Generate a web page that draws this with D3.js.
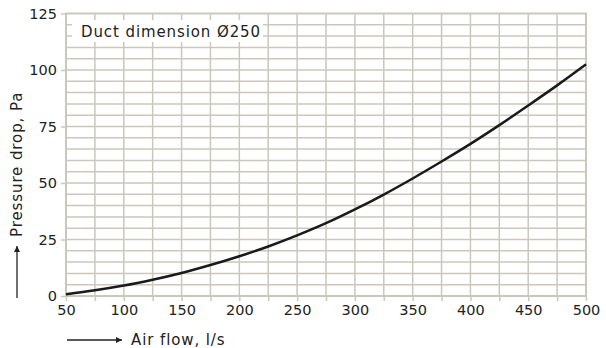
<!DOCTYPE html>
<html>
<head>
<meta charset="utf-8">
<script src="https://cdn.jsdelivr.net/npm/d3@7"></script>
<style>
  body { margin: 0; background: #fff; }
  svg { display: block; font-family: "DejaVu Sans", sans-serif; }
</style>
</head>
<body>
<svg width="606" height="348"></svg>
<script>
// air flow (l/s) and pressure drop (Pa)
var airFlow = [50, 75, 100, 125, 150, 175, 200, 225, 250, 275, 300, 325, 350, 375, 400, 425, 450, 475, 500];
var pressureDrop = [0.8, 2.5, 4.6, 7.2, 10.2, 13.7, 17.6, 21.9, 26.8, 32.2, 38.3, 44.9, 52, 59.5, 67.3, 75.6, 84.3, 93.2, 102.5];
var xTicks = [50, 100, 150, 200, 250, 300, 350, 400, 450, 500];
var yTicks = [0, 25, 50, 75, 100, 125];
var legendText = 'Duct dimension Ø250';

var gridColor = '#c9c8bb';
var svg = d3.select('svg');

var x = d3.scaleLinear().domain([50, 500]).range([66, 586]);
var y = d3.scaleLinear().domain([0, 125]).range([296, 13.5]);

// horizontal grid every 5 Pa
svg.append('g')
  .selectAll('line')
  .data(d3.range(5, 125, 5))
  .enter()
  .append('line')
  .attr('x1', x(50)).attr('x2', x(500))
  .attr('y1', function (d) { return y(d); })
  .attr('y2', function (d) { return y(d); })
  .attr('stroke', gridColor)
  .attr('stroke-width', 1.5);

// vertical grid every 25 l/s
svg.append('g')
  .selectAll('line')
  .data(d3.range(75, 500, 25))
  .enter()
  .append('line')
  .attr('y1', y(0)).attr('y2', y(125))
  .attr('x1', function (d) { return x(d); })
  .attr('x2', function (d) { return x(d); })
  .attr('stroke', gridColor)
  .attr('stroke-width', 1.5);

// frame
svg.append('rect')
  .attr('x', x(50)).attr('y', y(125))
  .attr('width', x(500) - x(50))
  .attr('height', y(0) - y(125))
  .attr('fill', 'none')
  .attr('stroke', gridColor)
  .attr('stroke-width', 2);

// axes
var xAxis = svg.append('g')
  .attr('transform', 'translate(0,' + y(0) + ')')
  .call(d3.axisBottom(x).tickValues(d3.range(50, 501, 25)).tickSize(5).tickPadding(4)
    .tickFormat(function (d) { return xTicks.indexOf(d) >= 0 ? d : ''; }));
var yAxis = svg.append('g')
  .attr('transform', 'translate(' + x(50) + ',0)')
  .call(d3.axisLeft(y).tickValues(yTicks).tickSize(5).tickPadding(4));

[xAxis, yAxis].forEach(function (ax) {
  ax.select('.domain').remove();
  ax.selectAll('.tick line').attr('stroke', gridColor).attr('stroke-width', 1.5);
  ax.selectAll('.tick text').attr('fill', '#222').attr('font-size', 14.5)
    .attr('font-family', '"DejaVu Sans", sans-serif');
});

// curve
var line = d3.line()
  .x(function (d, i) { return x(airFlow[i]); })
  .y(function (d) { return y(d); })
  .curve(d3.curveMonotoneX);

svg.append('path')
  .datum(pressureDrop)
  .attr('d', line)
  .attr('fill', 'none')
  .attr('stroke', '#1a1a1a')
  .attr('stroke-width', 2.5);

// legend box
var lg = svg.append('g');
lg.append('rect')
  .attr('x', 72).attr('y', 20)
  .attr('width', 191).attr('height', 22)
  .attr('fill', '#fff');
lg.append('text')
  .attr('x', 81).attr('y', 36.5)
  .attr('font-size', 15)
  .attr('letter-spacing', 0.9)
  .attr('fill', '#222')
  .text(legendText);

// axis titles with arrows
svg.append('defs').append('marker')
  .attr('id', 'arrow')
  .attr('viewBox', '0 0 10 10')
  .attr('refX', 10).attr('refY', 5)
  .attr('markerWidth', 13).attr('markerHeight', 6)
  .attr('markerUnits', 'userSpaceOnUse')
  .attr('orient', 'auto')
  .append('path')
  .attr('d', 'M0,0L10,5L0,10Z')
  .attr('fill', '#222');

svg.append('line')
  .attr('x1', 67).attr('y1', 340).attr('x2', 122).attr('y2', 340)
  .attr('stroke', '#222').attr('stroke-width', 1.3)
  .attr('marker-end', 'url(#arrow)');
svg.append('text')
  .attr('x', 131).attr('y', 345)
  .attr('font-size', 15)
  .attr('letter-spacing', 0.9)
  .attr('fill', '#222')
  .text('Air flow, l/s');

svg.append('line')
  .attr('x1', 17).attr('y1', 298).attr('x2', 17).attr('y2', 246)
  .attr('stroke', '#222').attr('stroke-width', 1.3)
  .attr('marker-end', 'url(#arrow)');
svg.append('text')
  .attr('transform', 'translate(22,237) rotate(-90)')
  .attr('font-size', 15)
  .attr('letter-spacing', 0.9)
  .attr('fill', '#222')
  .text('Pressure drop, Pa');
</script>
</body>
</html>
